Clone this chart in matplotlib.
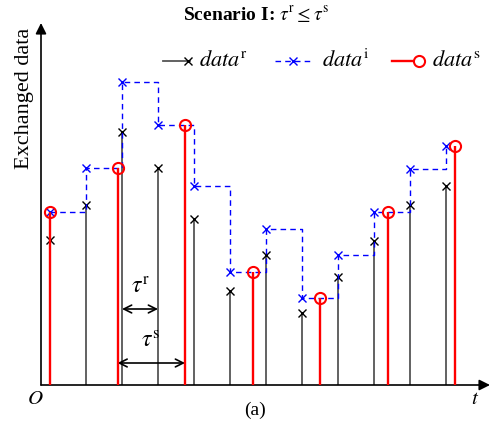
import matplotlib
matplotlib.use('Agg')
import matplotlib.pyplot as plt
from matplotlib.lines import Line2D

plt.rcParams['font.family'] = 'Liberation Serif'
plt.rcParams['mathtext.fontset'] = 'stix'

# sampling times of data^r / data^i, and of data^s
t_r = [0, 1, 2, 3, 4, 5, 6, 7, 8, 9, 10, 11]
t_s = [0, 1.875, 3.75, 5.625, 7.5, 9.375, 11.25]

data_r = [14.5, 18.0, 25.3, 21.7, 16.6, 9.4, 13.0, 7.2, 10.8, 14.4, 18.0, 19.9]
data_i = [17.3, 21.7, 30.3, 26.0, 19.9, 11.3, 15.6, 8.7, 13.0, 17.3, 21.6, 23.9]
data_s = [17.3, 21.7, 26.0, 11.3, 8.7, 17.3, 23.9]

W, H = 495, 425
fig = plt.figure(figsize=(W / 100, H / 100), dpi=100)
ax = fig.add_axes([41 / W, 40 / H, 449 / W, 362 / H])
ax.set_xlim(-0.25, 12.22)
ax.set_ylim(0, 36.2)
ax.axis('off')

# stems
ax.vlines(t_r, 0, data_r, color='#555555', lw=1.3, zorder=2)
ax.plot(t_r, data_r, 'x', color='k', ms=6, mew=1, zorder=3)
ax.step(t_r, data_i, where='post', color='blue', ls=(0, (4, 3)), lw=1, zorder=3)
ax.plot(t_r, data_i, 'x', color='blue', ms=6, mew=1, zorder=4)
ax.vlines(t_s, 0, data_s, color='red', lw=1.7, zorder=5)
ax.plot(t_s, data_s, 'o', mfc='none', mec='red', ms=8, mew=1.5, zorder=6)

# axes with arrows
ax.annotate('', xy=(1, 0), xytext=(0, 0), xycoords='axes fraction',
            arrowprops=dict(arrowstyle='-|>', color='k', lw=1.2, mutation_scale=16,
                            shrinkA=0, shrinkB=0))
ax.annotate('', xy=(0, 1), xytext=(0, 0), xycoords='axes fraction',
            arrowprops=dict(arrowstyle='-|>', color='k', lw=1.2, mutation_scale=16,
                            shrinkA=0, shrinkB=0))

# tau annotations
ax.annotate('', xy=(t_r[3], 7.6), xytext=(t_r[2], 7.6),
            arrowprops=dict(arrowstyle='<->', color='k', lw=1.2, mutation_scale=14,
                            shrinkA=0, shrinkB=0))
ax.text(2.5, 8.6, r'$\tau^{\mathrm{r}}$', fontsize=17, ha='center', va='bottom')
ax.annotate('', xy=(t_s[2], 2.2), xytext=(t_s[1], 2.2),
            arrowprops=dict(arrowstyle='<->', color='k', lw=1.2, mutation_scale=14,
                            shrinkA=0, shrinkB=0))
ax.text(2.8, 3.2, r'$\tau^{\mathrm{s}}$', fontsize=17, ha='center', va='bottom')

# legend drawn by hand
def fx(px):
    return px / W


def fy(py):
    return 1 - py / H


ly = 61
fig.add_artist(Line2D([fx(163), fx(190)], [fy(ly), fy(ly)], color='#555555', lw=1.3))
fig.add_artist(Line2D([fx(188)], [fy(ly)], marker='x', color='k', ms=6, mew=1))
fig.text(fx(199), fy(ly), r'$data^{\mathrm{r}}$', fontsize=16, va='center')
fig.add_artist(Line2D([fx(275), fx(310)], [fy(ly), fy(ly)], color='blue', lw=1, ls=(0, (4, 3))))
fig.add_artist(Line2D([fx(293)], [fy(ly)], marker='x', color='blue', ms=6, mew=1))
fig.text(fx(322), fy(ly), r'$data^{\mathrm{i}}$', fontsize=16, va='center')
fig.add_artist(Line2D([fx(392), fx(420)], [fy(ly), fy(ly)], color='red', lw=1.7))
fig.add_artist(Line2D([fx(419)], [fy(ly)], marker='o', mfc='white', mec='red', ms=8, mew=1.5))
fig.text(fx(432), fy(ly), r'$data^{\mathrm{s}}$', fontsize=16, va='center')

fig.text(fx(256), fy(15), r'Scenario I: $\tau^{\mathrm{r}} \leq \tau^{\mathrm{s}}$',
         fontsize=14, fontweight='bold', ha='center', va='center')
fig.text(fx(25), fy(98), 'Exchanged data', fontsize=16, rotation=90,
         ha='center', va='center')
fig.text(fx(35), fy(400), r'$O$', fontsize=15, ha='center', va='center')
fig.text(fx(475), fy(400), r'$t$', fontsize=15, ha='center', va='center')
fig.text(fx(255), fy(410), '(a)', fontsize=14, ha='center', va='center')

fig.savefig('out.png', dpi=100)
